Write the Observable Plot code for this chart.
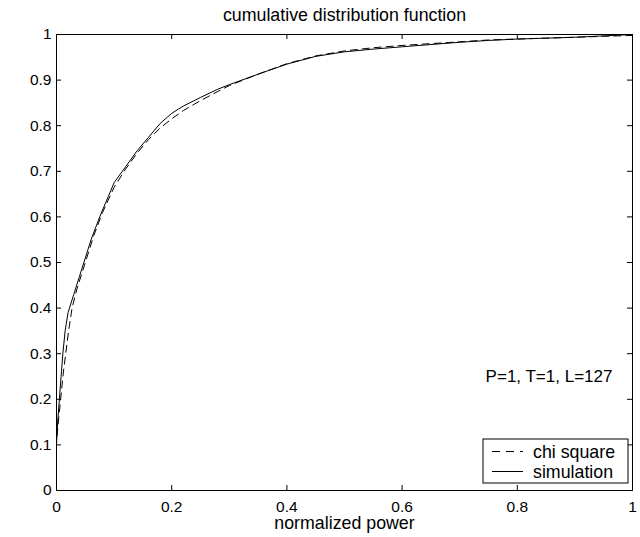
<!DOCTYPE html>
<html>
<head>
<meta charset="utf-8">
<script src="https://cdn.jsdelivr.net/npm/d3@7"></script>
<script src="https://cdn.jsdelivr.net/npm/@observablehq/plot@0.6"></script>
<style>
  html, body { margin: 0; padding: 0; background: #fff; }
</style>
</head>
<body>
<div id="chart"></div>
<script>
// ---- data ----
const titleText = "cumulative distribution function";
const xLabel = "normalized power";
const annotation = "P=1, T=1, L=127";
const annotationX = 0.745;
const annotationY = 0.25;
const seriesNames = ["chi square", "simulation"];

const xTicks = [0, 0.2, 0.4, 0.6, 0.8, 1];
const xTickLabels = ["0", "0.2", "0.4", "0.6", "0.8", "1"];
const yTicks = [0, 0.1, 0.2, 0.3, 0.4, 0.5, 0.6, 0.7, 0.8, 0.9, 1];
const yTickLabels = ["0", "0.1", "0.2", "0.3", "0.4", "0.5", "0.6", "0.7", "0.8", "0.9", "1"];

// chi square (dashed)
const chiX = [0.001, 0.004, 0.008, 0.012, 0.016, 0.021, 0.027, 0.035, 0.045, 0.055, 0.065, 0.08, 0.1, 0.12, 0.14, 0.16, 0.18, 0.2, 0.22, 0.25, 0.28, 0.3, 0.35, 0.4, 0.45, 0.5, 0.55, 0.6, 0.65, 0.7, 0.75, 0.8, 0.85, 0.9, 0.95, 1.0];
const chiY = [0.12, 0.16, 0.21, 0.26, 0.30, 0.35, 0.40, 0.44, 0.48, 0.52, 0.56, 0.61, 0.665, 0.705, 0.74, 0.77, 0.795, 0.815, 0.833, 0.855, 0.875, 0.888, 0.913, 0.936, 0.953, 0.964, 0.971, 0.976, 0.980, 0.984, 0.988, 0.990, 0.992, 0.994, 0.996, 0.998];

// simulation (solid)
const simX = [0, 0.002, 0.005, 0.008, 0.011, 0.015, 0.02, 0.03, 0.04, 0.05, 0.06, 0.075, 0.09, 0.1, 0.12, 0.14, 0.16, 0.18, 0.2, 0.22, 0.25, 0.28, 0.3, 0.35, 0.4, 0.45, 0.5, 0.55, 0.6, 0.65, 0.7, 0.75, 0.8, 0.85, 0.9, 0.95, 1.0];
const simY = [0.10, 0.15, 0.20, 0.25, 0.30, 0.35, 0.39, 0.43, 0.47, 0.51, 0.55, 0.60, 0.645, 0.675, 0.71, 0.745, 0.775, 0.805, 0.827, 0.843, 0.862, 0.88, 0.89, 0.913, 0.935, 0.952, 0.962, 0.968, 0.973, 0.978, 0.983, 0.987, 0.990, 0.992, 0.994, 0.997, 1.0];

// ---- build ----
const chi = chiX.map((x, i) => ({x, y: chiY[i]}));
const sim = simX.map((x, i) => ({x, y: simY[i]}));

const W = 640, H = 537;
const mL = 56, mR = 8, mT = 34, mB = 47;
const fw = W - mL - mR, fh = H - mT - mB;
const tickLen = 5;
const font = "'Liberation Sans', Arial, Helvetica, sans-serif";
const wordSize = 17.8;

const plot = Plot.plot({
  width: W,
  height: H,
  marginLeft: mL, marginRight: mR, marginTop: mT, marginBottom: mB,
  style: {fontFamily: font, fontSize: "15.5px", color: "#000", background: "#fff"},
  x: {domain: [0, 1]},
  y: {domain: [0, 1]},
  marks: [
    Plot.line(chi, {x: "x", y: "y", stroke: "#000", strokeWidth: 1, strokeDasharray: "7,5"}),
    Plot.line(sim, {x: "x", y: "y", stroke: "#000", strokeWidth: 1}),
    Plot.frame({stroke: "#000", strokeWidth: 1}),
    // inward ticks on all four sides
    Plot.ruleX(xTicks, {x: d => d, insetTop: fh - tickLen, stroke: "#000"}),
    Plot.ruleX(xTicks, {x: d => d, insetBottom: fh - tickLen, stroke: "#000"}),
    Plot.ruleY(yTicks, {y: d => d, insetRight: fw - tickLen, stroke: "#000"}),
    Plot.ruleY(yTicks, {y: d => d, insetLeft: fw - tickLen, stroke: "#000"}),
    Plot.axisX(xTicks, {tickSize: 0, tickPadding: 10, tickFormat: (d, i) => xTickLabels[i], label: null, fontSize: 15.5}),
    Plot.axisY(yTicks, {tickSize: 0, tickPadding: 5, tickFormat: (d, i) => yTickLabels[i], label: null, fontSize: 15.5}),
    Plot.text([titleText], {frameAnchor: "top", dy: -19, lineAnchor: "middle", fontSize: wordSize, fill: "#000"}),
    Plot.text([xLabel], {frameAnchor: "bottom", dy: 33, lineAnchor: "middle", fontSize: wordSize, fill: "#000"}),
    Plot.text([annotation], {x: () => annotationX, y: () => annotationY, text: d => d, textAnchor: "start", fontSize: 17, fill: "#000"})
  ]
});

document.getElementById("chart").appendChild(plot);

// legend (boxed, lower right inside axes)
const svg = d3.select(plot);
const lg = svg.append("g").attr("font-family", font).attr("font-size", wordSize).attr("text-anchor", "start");
const lx0 = 483, ly0 = 439, lw = 145, lh = 44;
lg.append("rect").attr("x", lx0).attr("y", ly0).attr("width", lw).attr("height", lh)
  .attr("fill", "#fff").attr("stroke", "#000").attr("stroke-width", 1);
const rows = [
  {name: seriesNames[0], dash: "8,6"},
  {name: seriesNames[1], dash: null}
];
rows.forEach((r, i) => {
  const cy = ly0 + 12.5 + i * 20;
  lg.append("line").attr("x1", lx0 + 9).attr("x2", lx0 + 40).attr("y1", cy).attr("y2", cy)
    .attr("stroke", "#000").attr("stroke-width", 1).attr("stroke-dasharray", r.dash);
  lg.append("text").attr("x", lx0 + 50).attr("y", cy).attr("dy", "0.35em").attr("fill", "#000")
    .attr("text-anchor", "start").text(r.name);
});
</script>
</body>
</html>
